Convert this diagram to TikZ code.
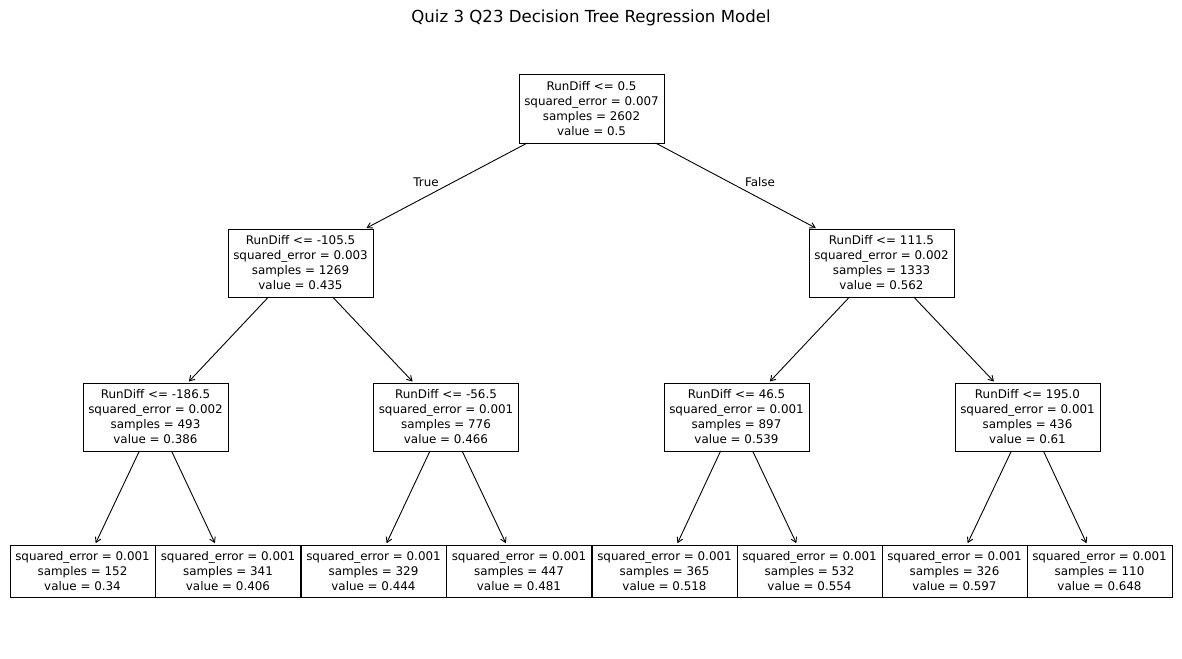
\documentclass[tikz,border=0pt]{standalone}
\usepackage{fontspec}
\setmainfont{DejaVu Sans}
\usetikzlibrary{arrows.meta}
\begin{document}
\begin{tikzpicture}[x=1pt,y=-1pt,
  treebox/.style={draw=black,line width=1pt,fill=white,minimum width=145pt,minimum height=68pt,inner sep=0pt,outer sep=0pt,align=center,font=\fontsize{11.9}{15}\selectfont},
  leafbox/.style={treebox,minimum height=52pt},
  edge/.style={line width=0.9pt,-{Straight Barb[length=5pt,width=6pt,line width=0.9pt]},shorten >=2pt},
  lbl/.style={font=\fontsize{11.9}{15}\selectfont,inner sep=0pt}]
\useasboundingbox (0,0) rectangle (1182,658);
\node[font=\fontsize{16.6}{20}\selectfont] (title) at (591,18) {Quiz 3 Q23 Decision Tree Regression Model};
\node[treebox] (n0) at (591.5,109) {RunDiff <= 0.5\\squared\_error = 0.007\\samples = 2602\\value = 0.5};
\node[treebox] (n1) at (300.5,263) {RunDiff <= -105.5\\squared\_error = 0.003\\samples = 1269\\value = 0.435};
\node[treebox] (n2) at (881.5,263) {RunDiff <= 111.5\\squared\_error = 0.002\\samples = 1333\\value = 0.562};
\node[treebox] (n3) at (155.5,417) {RunDiff <= -186.5\\squared\_error = 0.002\\samples = 493\\value = 0.386};
\node[treebox] (n4) at (446,417) {RunDiff <= -56.5\\squared\_error = 0.001\\samples = 776\\value = 0.466};
\node[treebox] (n5) at (736.5,417) {RunDiff <= 46.5\\squared\_error = 0.001\\samples = 897\\value = 0.539};
\node[treebox] (n6) at (1027.5,417) {RunDiff <= 195.0\\squared\_error = 0.001\\samples = 436\\value = 0.61};
\node[leafbox] (l1) at (82.5,571) {squared\_error = 0.001\\samples = 152\\value = 0.34};
\node[leafbox] (l2) at (228,571) {squared\_error = 0.001\\samples = 341\\value = 0.406};
\node[leafbox] (l3) at (373.5,571) {squared\_error = 0.001\\samples = 329\\value = 0.444};
\node[leafbox] (l4) at (519,571) {squared\_error = 0.001\\samples = 447\\value = 0.481};
\node[leafbox] (l5) at (664.5,571) {squared\_error = 0.001\\samples = 365\\value = 0.518};
\node[leafbox] (l6) at (809.5,571) {squared\_error = 0.001\\samples = 532\\value = 0.554};
\node[leafbox] (l7) at (954.5,571) {squared\_error = 0.001\\samples = 326\\value = 0.597};
\node[leafbox] (l8) at (1099.5,571) {squared\_error = 0.001\\samples = 110\\value = 0.648};
\draw[edge] (n0) -- (n1);
\draw[edge] (n0) -- (n2);
\draw[edge] (n1) -- (n3);
\draw[edge] (n1) -- (n4);
\draw[edge] (n2) -- (n5);
\draw[edge] (n2) -- (n6);
\draw[edge] (n3) -- (l1);
\draw[edge] (n3) -- (l2);
\draw[edge] (n4) -- (l3);
\draw[edge] (n4) -- (l4);
\draw[edge] (n5) -- (l5);
\draw[edge] (n5) -- (l6);
\draw[edge] (n6) -- (l7);
\draw[edge] (n6) -- (l8);
\node[lbl] (tt) at (426,182) {True};
\node[lbl] (ff) at (760,182) {False};
\end{tikzpicture}
\end{document}
